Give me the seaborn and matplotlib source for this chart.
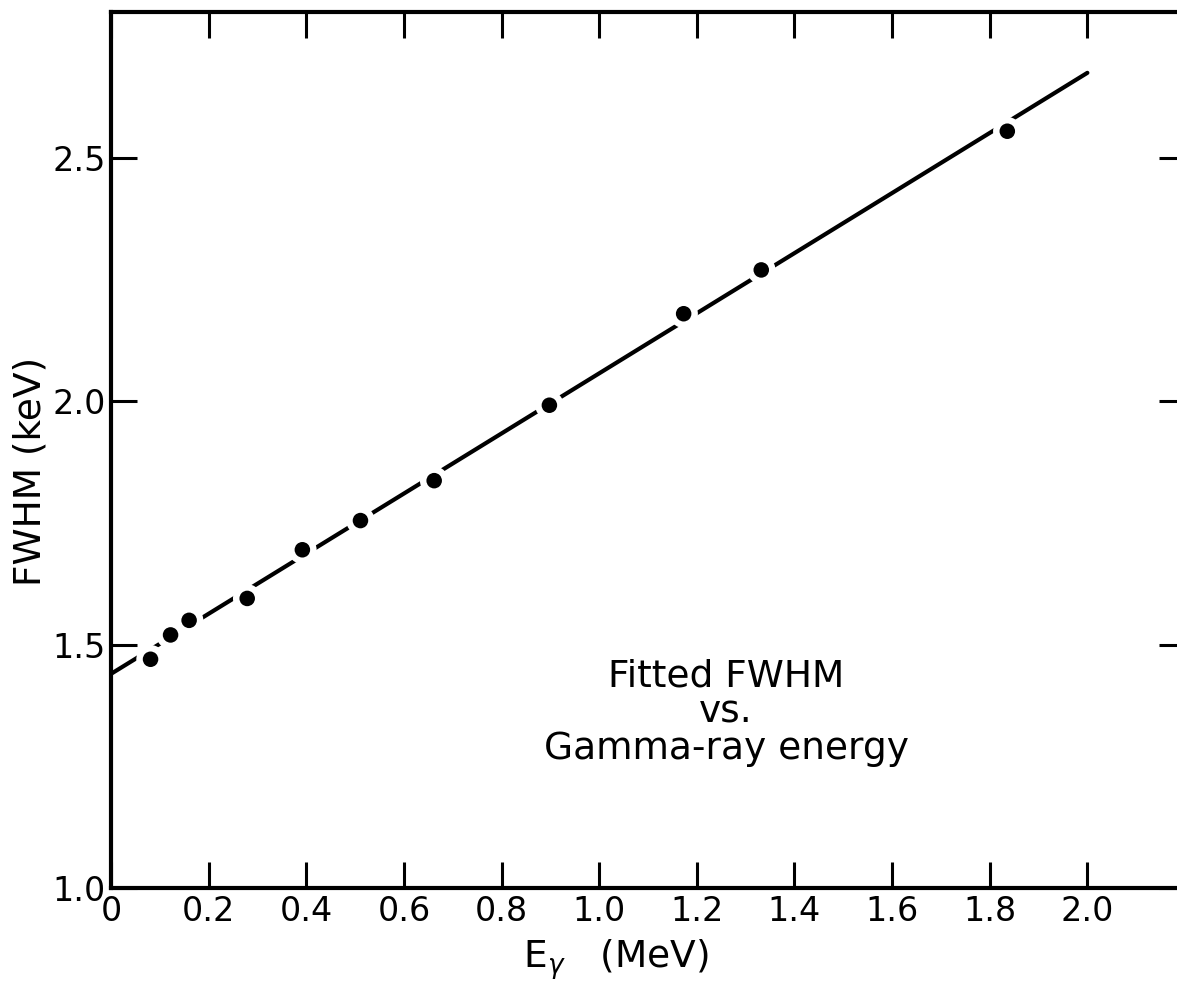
import matplotlib
matplotlib.use("Agg")
import matplotlib.pyplot as plt
import seaborn as sns
import pandas as pd

# Measured points (gamma-ray energy in MeV, fitted FWHM in keV)
energy = [0.081, 0.122, 0.160, 0.279, 0.392, 0.511, 0.662, 0.898, 1.173, 1.332, 1.836]
fwhm = [1.47, 1.52, 1.55, 1.595, 1.695, 1.755, 1.837, 1.992, 2.18, 2.27, 2.555]

# Straight-line fit through the points
fit_x = [0.0, 2.0]
fit_y = [1.44, 2.675]

x_ticks = [0.0, 0.2, 0.4, 0.6, 0.8, 1.0, 1.2, 1.4, 1.6, 1.8, 2.0]
x_tick_labels = ["0", "0.2", "0.4", "0.6", "0.8", "1.0", "1.2", "1.4", "1.6", "1.8", "2.0"]
y_ticks = [1.0, 1.5, 2.0, 2.5]
y_tick_labels = ["1.0", "1.5", "2.0", "2.5"]

sns.set_style("ticks")
plt.rcParams["font.family"] = ["DejaVu Sans"]
plt.rcParams["text.color"] = "black"
plt.rcParams["axes.labelcolor"] = "black"
plt.rcParams["xtick.color"] = "black"
plt.rcParams["ytick.color"] = "black"

pts = pd.DataFrame({"energy": energy, "fwhm": fwhm})
fit = pd.DataFrame({"x": fit_x, "y": fit_y})

fig = plt.figure(figsize=(11.77, 9.83), dpi=100)
ax = fig.add_axes([111 / 1177, 95 / 983, 1074 / 1177, 876 / 983])

sns.lineplot(data=fit, x="x", y="y", ax=ax, color="black", linewidth=3.0, zorder=2)
sns.scatterplot(data=pts, x="energy", y="fwhm", ax=ax, color="white", s=420,
                edgecolor="none", linewidth=0, zorder=3)
sns.scatterplot(data=pts, x="energy", y="fwhm", ax=ax, color="black", s=125,
                edgecolor="none", linewidth=0, zorder=4)

ax.set_xlim(0, 2.2)
ax.set_ylim(1.0, 2.8)
ax.set_xticks(x_ticks)
ax.set_xticklabels(x_tick_labels)
ax.set_yticks(y_ticks)
ax.set_yticklabels(y_tick_labels)

for side in ["left", "bottom", "top", "right"]:
    ax.spines[side].set_linewidth(3.0)
    ax.spines[side].set_color("black")
ax.spines["right"].set_visible(False)

ax.tick_params(axis="both", which="major", direction="in", length=19, width=2.2,
               labelsize=24, colors="black", labelcolor="black", top=True, right=True, pad=5)
ax.tick_params(axis="y", pad=4)

ax.set_xlabel(r"E$_{\gamma}$   (MeV)", fontsize=27, color="black")
ax.set_ylabel("FWHM (keV)", fontsize=27, color="black")
ax.xaxis.set_label_coords(0.47, -0.056)
ax.yaxis.set_label_coords(-0.058, 0.475)

ax.text(1.26, 1.36, "Fitted FWHM\nvs.\nGamma-ray energy", fontsize=27,
        ha="center", va="center", multialignment="center", linespacing=1.0,
        color="black")

fig.savefig("out.png", dpi=100)
